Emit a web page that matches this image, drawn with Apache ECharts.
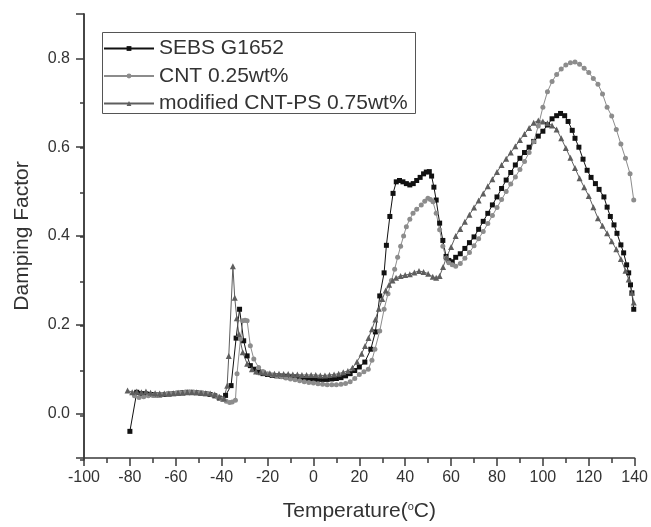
<!DOCTYPE html>
<html>
<head>
<meta charset="utf-8">
<script src="https://cdn.jsdelivr.net/npm/echarts@6/dist/echarts.min.js"></script>
<style>
html,body{margin:0;padding:0;background:#fff;}
#c{width:651px;height:527px;}
</style>
</head>
<body>
<div id="c"></div>
<script>
const seriesNames = ['SEBS G1652', 'CNT 0.25wt%', 'modified CNT-PS 0.75wt%'];
const xTicks = [-100, -80, -60, -40, -20, 0, 20, 40, 60, 80, 100, 120, 140];
const yLabelTicks = [0, 0.2, 0.4, 0.6, 0.8];

const sebs = [[-80,-0.04],[-77,0.048],[-75,0.045],[-73,0.044],[-71,0.043],[-69,0.042],[-67,0.042],[-65,0.043],[-63,0.044],[-61,0.045],[-59,0.046],[-57,0.047],[-55,0.048],[-53,0.048],[-51,0.047],[-49,0.046],[-47,0.045],[-45,0.043],[-43,0.04],[-41,0.035],[-39.5,0.033],[-38.3,0.041],[-35.9,0.063],[-33.7,0.17],[-32.2,0.235],[-30.4,0.164],[-28.9,0.13],[-27.5,0.108],[-26,0.1],[-24,0.094],[-22,0.09],[-20,0.088],[-18,0.086],[-16,0.085],[-14,0.084],[-12,0.083],[-10,0.082],[-8,0.081],[-6,0.08],[-4,0.079],[-2,0.078],[0,0.078],[2,0.077],[4,0.077],[6,0.077],[8,0.078],[10,0.079],[12,0.081],[14,0.085],[16,0.09],[18,0.097],[20,0.105],[22.4,0.116],[25,0.145],[27,0.184],[28.9,0.265],[30.8,0.317],[31.8,0.379],[33.3,0.444],[34.7,0.496],[36.1,0.522],[37.5,0.525],[39,0.522],[40.5,0.518],[42,0.515],[43.5,0.518],[45,0.525],[46.5,0.532],[48,0.54],[49.2,0.544],[50.5,0.545],[51.5,0.535],[52.5,0.51],[53.5,0.481],[55,0.429],[56.4,0.39],[57.8,0.354],[59,0.345],[60.5,0.342],[62,0.352],[64,0.36],[66,0.372],[68,0.385],[70,0.398],[72,0.415],[74,0.433],[76,0.451],[78,0.47],[80,0.488],[82,0.507],[84,0.526],[86,0.543],[88,0.56],[90,0.575],[92,0.588],[94,0.6],[96,0.613],[98,0.625],[100,0.636],[102,0.65],[104,0.664],[106,0.671],[107.7,0.676],[109.5,0.671],[111,0.658],[112.8,0.638],[114,0.62],[115.7,0.6],[117.5,0.573],[119.3,0.548],[121,0.532],[122.9,0.518],[124.5,0.505],[126.6,0.488],[128,0.465],[129.4,0.444],[131,0.425],[132.3,0.406],[134,0.38],[135.2,0.362],[136.5,0.335],[137.4,0.317],[138.2,0.29],[138.8,0.272],[139.6,0.235]];

const cnt = [[-78,0.04],[-76,0.036],[-74,0.038],[-72,0.04],[-70,0.041],[-68,0.042],[-66,0.043],[-64,0.044],[-62,0.045],[-60,0.046],[-58,0.047],[-56,0.048],[-54,0.048],[-52,0.048],[-50,0.047],[-48,0.046],[-46,0.045],[-44,0.042],[-42,0.038],[-40,0.033],[-38,0.028],[-36.5,0.025],[-35.4,0.026],[-34,0.03],[-33.3,0.09],[-31.8,0.168],[-30.8,0.209],[-29.8,0.21],[-28.9,0.209],[-27.5,0.153],[-26,0.123],[-23.9,0.104],[-22,0.095],[-20,0.09],[-18,0.087],[-16,0.085],[-14,0.083],[-12,0.08],[-10,0.078],[-8,0.076],[-6,0.074],[-4,0.072],[-2,0.07],[0,0.069],[2,0.067],[4,0.066],[6,0.065],[8,0.065],[10,0.065],[12,0.066],[14,0.068],[16,0.072],[18,0.079],[20,0.088],[22,0.094],[23.9,0.1],[25.5,0.12],[26.8,0.145],[28.9,0.186],[30.8,0.235],[32.5,0.27],[34,0.3],[35.4,0.325],[36.7,0.352],[38,0.377],[39.3,0.4],[40.5,0.421],[42,0.438],[43.4,0.451],[45,0.46],[47,0.47],[48.5,0.478],[49.9,0.485],[51,0.482],[52.1,0.477],[53.5,0.451],[55,0.414],[56.4,0.377],[57.8,0.35],[59,0.34],[60.5,0.335],[62,0.332],[64,0.338],[66,0.35],[68,0.363],[70,0.378],[72,0.394],[74,0.41],[76,0.428],[78,0.446],[80,0.464],[82,0.482],[84,0.5],[86,0.517],[88,0.533],[90,0.55],[92,0.568],[94,0.588],[96,0.612],[98,0.648],[100,0.69],[102,0.725],[104,0.748],[106,0.764],[108,0.776],[110,0.785],[112,0.79],[114,0.792],[116,0.787],[118,0.778],[120,0.768],[122,0.755],[124,0.742],[126,0.72],[128,0.69],[130,0.67],[132,0.64],[134,0.607],[136,0.575],[138,0.54],[139.6,0.481]];

const modified = [[-81,0.052],[-79,0.048],[-77,0.05],[-75,0.048],[-73,0.05],[-71,0.047],[-69,0.046],[-67,0.045],[-65,0.045],[-63,0.045],[-61,0.046],[-59,0.047],[-57,0.047],[-55,0.048],[-53,0.048],[-51,0.048],[-49,0.047],[-47,0.046],[-45,0.045],[-43,0.043],[-41,0.038],[-39,0.034],[-37.6,0.063],[-36.9,0.13],[-35.1,0.332],[-34.3,0.261],[-33.4,0.215],[-32.5,0.179],[-30.8,0.138],[-28.9,0.112],[-26.8,0.1],[-25,0.095],[-23,0.093],[-21,0.092],[-19,0.091],[-17,0.09],[-15,0.09],[-13,0.089],[-11,0.089],[-9,0.088],[-7,0.088],[-5,0.087],[-3,0.087],[-1,0.087],[1,0.087],[3,0.086],[5,0.086],[7,0.087],[9,0.088],[11,0.09],[13,0.093],[15,0.096],[17,0.103],[19,0.117],[21,0.135],[22.5,0.152],[24,0.17],[25.5,0.19],[27,0.212],[28.5,0.236],[30,0.258],[31.5,0.277],[33,0.29],[34.5,0.3],[36,0.306],[38,0.31],[40,0.312],[42,0.314],[44,0.318],[46,0.321],[48,0.319],[50,0.315],[52,0.308],[53.5,0.306],[55,0.31],[56.5,0.33],[58,0.352],[60,0.375],[62,0.4],[64,0.416],[66,0.432],[68,0.448],[70,0.464],[72,0.48],[74,0.496],[76,0.512],[78,0.528],[80,0.544],[82,0.56],[84,0.574],[86,0.588],[88,0.602],[90,0.616],[92,0.63],[94,0.643],[96,0.655],[98,0.66],[100,0.658],[102,0.654],[104,0.649],[106,0.64],[108,0.62],[110,0.598],[112,0.576],[114,0.553],[116,0.53],[118,0.51],[120,0.49],[122,0.465],[124,0.44],[126,0.423],[128,0.406],[130,0.388],[132,0.37],[134,0.348],[136,0.322],[137.4,0.302],[138.8,0.272],[139.6,0.25]];

const chart = echarts.init(document.getElementById('c'), null, {renderer: 'canvas'});
const font = 'Liberation Sans, Arial, sans-serif';
const axisColor = '#3a3a3a';
const gridBox = {left: 84, right: 14, top: 14, bottom: 67, containLabel: false};

chart.setOption({
  animation: false,
  backgroundColor: '#ffffff',
  textStyle: {fontFamily: font},
  grid: [Object.assign({}, gridBox), Object.assign({}, gridBox)],
  graphic: [{
    type: 'rect', left: 100, top: 30, z: 0, silent: true,
    shape: {width: 313, height: 81},
    style: {fill: 'none', stroke: '#555', lineWidth: 1}
  }],
  legend: {
    orient: 'vertical', left: 100, top: 38,
    data: seriesNames,
    itemWidth: 50, itemHeight: 6, itemGap: 6.5,
    padding: [0, 5, 0, 3],
    textStyle: {fontSize: 21, color: '#333', fontFamily: font}
  },
  xAxis: [{
    gridIndex: 0, type: 'value', min: -100, max: 140, interval: 20,
    name: 'Temperature({s|o}C)', nameLocation: 'middle', nameGap: 43,
    nameTextStyle: {fontSize: 21, color: '#333', fontFamily: font,
      rich: {s: {fontSize: 11, color: '#333', fontFamily: font, padding: [0, 0, 10, 0]}}},
    axisLine: {show: true, onZero: false, lineStyle: {color: axisColor, width: 1.5}},
    axisTick: {show: true, inside: false, length: 8, lineStyle: {color: axisColor, width: 1.5}},
    minorTick: {show: true, splitNumber: 2, length: 5, lineStyle: {color: axisColor, width: 1.5}},
    axisLabel: {fontSize: 16, color: '#333', margin: 12, fontFamily: font},
    splitLine: {show: false}
  }, {
    gridIndex: 1, type: 'value', min: -100, max: 140, interval: 20,
    axisLine: {show: false, onZero: false}, axisTick: {show: false}, axisLabel: {show: false}, splitLine: {show: false}
  }],
  yAxis: [{
    gridIndex: 0, type: 'value', min: -0.1, max: 0.9,
    name: 'Damping Factor', nameLocation: 'middle', nameGap: 51,
    nameTextStyle: {fontSize: 21, color: '#333', fontFamily: font},
    axisLine: {show: true, onZero: false, lineStyle: {color: axisColor, width: 1.5}},
    axisTick: {show: true, length: 8, lineStyle: {color: axisColor, width: 1.5}},
    axisLabel: {fontSize: 16, color: '#333', margin: 14, fontFamily: font, customValues: yLabelTicks,
      formatter: v => v.toFixed(1)},
    splitLine: {show: false}
  }, {
    gridIndex: 1, type: 'value', min: -0.1, max: 0.9, interval: 0.1, position: 'left',
    axisLine: {show: true, onZero: false, lineStyle: {color: axisColor, width: 1.5}},
    axisTick: {show: true, length: 4, lineStyle: {color: axisColor, width: 1.5}},
    axisLabel: {show: true, fontSize: 10, color: 'rgba(0,0,0,0)', formatter: v => '.'},
    splitLine: {show: false}
  }],
  series: [{
    name: seriesNames[0], type: 'line', data: sebs, xAxisIndex: 0, yAxisIndex: 0,
    symbol: 'rect', symbolSize: 5, showSymbol: true,
    lineStyle: {color: '#111', width: 1}, itemStyle: {color: '#111'}
  }, {
    name: seriesNames[1], type: 'line', data: cnt, xAxisIndex: 0, yAxisIndex: 0,
    symbol: 'circle', symbolSize: 5, showSymbol: true,
    lineStyle: {color: '#8c8c8c', width: 1}, itemStyle: {color: '#8c8c8c'}
  }, {
    name: seriesNames[2], type: 'line', data: modified, xAxisIndex: 0, yAxisIndex: 0,
    symbol: 'triangle', symbolSize: 6, showSymbol: true,
    lineStyle: {color: '#5e5e5e', width: 1}, itemStyle: {color: '#5e5e5e'}
  }, {
    name: 'tickHolder', type: 'line', data: [[-100, -0.1]], xAxisIndex: 1, yAxisIndex: 1,
    silent: true, showSymbol: false, lineStyle: {opacity: 0}, itemStyle: {opacity: 0}
  }]
});
</script>
</body>
</html>
